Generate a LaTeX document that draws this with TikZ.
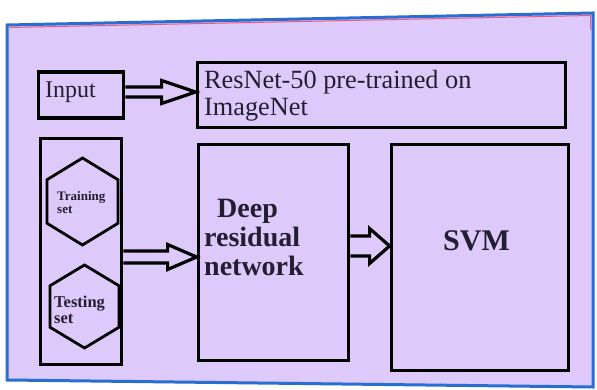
\documentclass[tikz,border=0pt]{standalone}
\usepackage{fontspec}
\setmainfont{Liberation Serif}
\usetikzlibrary{calc}
\definecolor{lav}{RGB}{221,201,250}
\definecolor{framebl}{RGB}{40,110,210}
\definecolor{framered}{RGB}{235,90,130}
\definecolor{ink}{RGB}{35,30,50}
\tikzset{
  box/.style={draw=black, line width=3.8pt, fill=lav, inner sep=0pt},
  hexline/.style={draw=black, line width=2.8pt},
  arrowline/.style={draw=black, line width=3.2pt, line join=miter, fill=lav},
  txt/.style={inner sep=0pt, anchor=base west, text=ink},
}
\newcommand\hollowarrow[5]{%
  \draw[arrowline] let \p1=(#1), \p2=(#2) in
    (\x1,\y1+#3) -- (\x2-#5,\y1+#3) -- (\x2-#5,\y1+#4) -- (\x2,\y1)
    -- (\x2-#5,\y1-#4) -- (\x2-#5,\y1-#3) -- (\x1,\y1-#3);}
\newcommand\hexagon[5]{% name, cx, cy, half width, half height
  \coordinate (#1) at (#2,#3);
  \draw[hexline] ($(#1)+(0,-#5)$) -- ($(#1)+(#4,-#5/2)$) -- ($(#1)+(#4,#5/2)$)
    -- ($(#1)+(0,#5)$) -- ($(#1)+(-#4,#5/2)$) -- ($(#1)+(-#4,-#5/2)$) -- cycle;}
\begin{document}
\begin{tikzpicture}[x=1pt,y=-1pt]
\useasboundingbox (0,0) rectangle (597,390);
\fill[white] (0,0) rectangle (597,390);
% frame
\draw[framebl, line width=3pt, fill=lav] (7,25) -- (593,13) -- (593,387) -- (7,380) -- cycle;
\draw[framered, line width=1pt] (9,27.5) -- (590.5,15.5) -- (590.5,30);
% boxes
\node[box, minimum width=85pt, minimum height=46pt] (input) at (81,95) {};
\node[box, minimum width=368pt, minimum height=65pt] (resnet) at (381.5,95) {};
\node[box, minimum width=81pt, minimum height=226pt] (data) at (81,251.5) {};
\node[box, minimum width=150pt, minimum height=216pt] (deep) at (273.5,252.5) {};
\node[box, minimum width=177pt, minimum height=226pt] (svm) at (480,257.5) {};
% hexagons
\hexagon{train}{82.5}{201.5}{35.5}{43.5}
\hexagon{test}{84.5}{306.5}{34.5}{41.5}
% arrows
\coordinate (a1s) at ($(input.east)+(0,-3)$);
\hollowarrow{a1s}{resnet.west}{5pt}{11.5pt}{34pt}
\coordinate (a2s) at (data.east |- 0,257);
\hollowarrow{a2s}{deep.west}{6pt}{12.5pt}{29pt}
\coordinate (a3s) at (deep.east |- 0,246);
\hollowarrow{a3s}{svm.west}{10pt}{17.5pt}{20pt}
% texts
\node[txt, font=\fontsize{24}{24}\selectfont] (tin) at (45,98) {Input};
\node[txt, font=\fontsize{26.3}{26}\selectfont] (tres1) at (204,89) {ResNet-50 pre-trained on};
\node[txt, font=\fontsize{26.3}{26}\selectfont] (tres2) at (204,116) {ImageNet};
\node[txt, font=\fontsize{13}{13}\selectfont\bfseries] (ttr1) at (57,201) {Training};
\node[txt, font=\fontsize{13}{13}\selectfont\bfseries] (ttr2) at (57,214) {set};
\node[txt, font=\fontsize{16.5}{16.5}\selectfont\bfseries] (tte1) at (54,307) {Testing};
\node[txt, font=\fontsize{16.5}{16.5}\selectfont\bfseries] (tte2) at (54,323) {set};
\node[txt, font=\fontsize{28}{28}\selectfont\bfseries] (td1) at (217,218) {Deep};
\node[txt, font=\fontsize{28}{28}\selectfont\bfseries] (td2) at (204,247) {residual};
\node[txt, font=\fontsize{28}{28}\selectfont\bfseries] (td3) at (204,275) {network};
\node[txt, font=\fontsize{30}{30}\selectfont\bfseries] (tsvm) at (443,251) {SVM};
\end{tikzpicture}
\end{document}
